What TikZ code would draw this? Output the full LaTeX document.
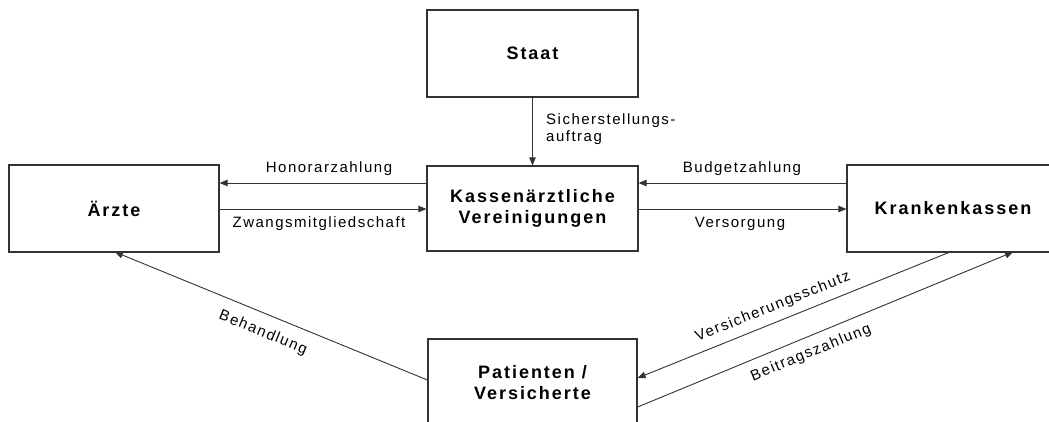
\documentclass[tikz,border=0pt]{standalone}
\usepackage{fontspec}
\setmainfont{Liberation Sans}
\newfontfamily\boxfont[LetterSpace=11]{Liberation Sans Bold}
\newfontfamily\labfont[LetterSpace=10]{Liberation Sans}
\usetikzlibrary{arrows.meta}
\definecolor{linegray}{HTML}{333333}
\begin{document}
\begin{tikzpicture}[x=1pt,y=-1pt,
  entity/.style={draw=linegray,line width=1.2pt,fill=white,inner sep=0pt,
    font=\boxfont\fontsize{18}{21}\selectfont,align=center},
  flow/.style={draw=linegray,line width=0.9pt,
    -{Triangle[length=8pt,width=6.5pt]}},
  lab/.style={font=\labfont\fontsize{15}{17}\selectfont,text=black,inner sep=0pt}]
\useasboundingbox (0,0) rectangle (1049,421);
\fill[white] (0,0) rectangle (1049,421);

% actors
\node[entity,minimum width=211pt,minimum height=87pt] (staat) at (532.5,53.5) {Staat};
\node[entity,minimum width=211pt,minimum height=85pt] (kv) at (532.5,208.5) {Kassenärztliche\\Vereinigungen};
\node[entity,minimum width=210pt,minimum height=87pt] (aerzte) at (114,208.5) {Ärzte};
\node[entity,minimum width=212pt,minimum height=87pt] (kk) at (953,208.5) {Krankenkassen};
\node[entity,minimum width=209pt,minimum height=87pt] (pat) at (532.5,382.5) {Patienten /\\Versicherte};

% anchor points on the box borders
\coordinate (kvL1) at (kv.west |- 0,183);
\coordinate (kvL2) at (kv.west |- 0,209);
\coordinate (kvR1) at (kv.east |- 0,183);
\coordinate (kvR2) at (kv.east |- 0,209);
\coordinate (aeR1) at (aerzte.east |- 0,183);
\coordinate (aeR2) at (aerzte.east |- 0,209);
\coordinate (kkL1) at (kk.west |- 0,183);
\coordinate (kkL2) at (kk.west |- 0,209);
\coordinate (aeB) at (115,252);
\coordinate (patL) at (pat.west |- 0,380);
\coordinate (patR1) at (pat.east |- 0,378);
\coordinate (patR2) at (pat.east |- 0,407);
\coordinate (kkB1) at (950,252);
\coordinate (kkB2) at (1013,252);

% flows
\draw[flow] (staat.south) -- (kv.north);
\draw[flow] (kvL1) -- (aeR1);
\draw[flow] (aeR2) -- (kvL2);
\draw[flow] (kkL1) -- (kvR1);
\draw[flow] (kvR2) -- (kkL2);
\draw[flow] (patL) -- (aeB);
\draw[flow] (kkB1) -- (patR1);
\draw[flow] (patR2) -- (kkB2);

% flow labels
\node[lab,anchor=north west,align=left] (l1) at (546,113) {Sicherstellungs-\\auftrag};
\node[lab] (l2) at (329,169) {Honorarzahlung};
\node[lab] (l3) at (319,224) {Zwangsmitgliedschaft};
\node[lab] (l4) at (742,169) {Budgetzahlung};
\node[lab] (l5) at (740,224) {Versorgung};
\node[lab,rotate=-22.2] (l6) at (263,333) {Behandlung};
\node[lab,rotate=21.9] (l7) at (773,307) {Versicherungsschutz};
\node[lab,rotate=22.4] (l8) at (811,353) {Beitragszahlung};
\end{tikzpicture}
\end{document}
